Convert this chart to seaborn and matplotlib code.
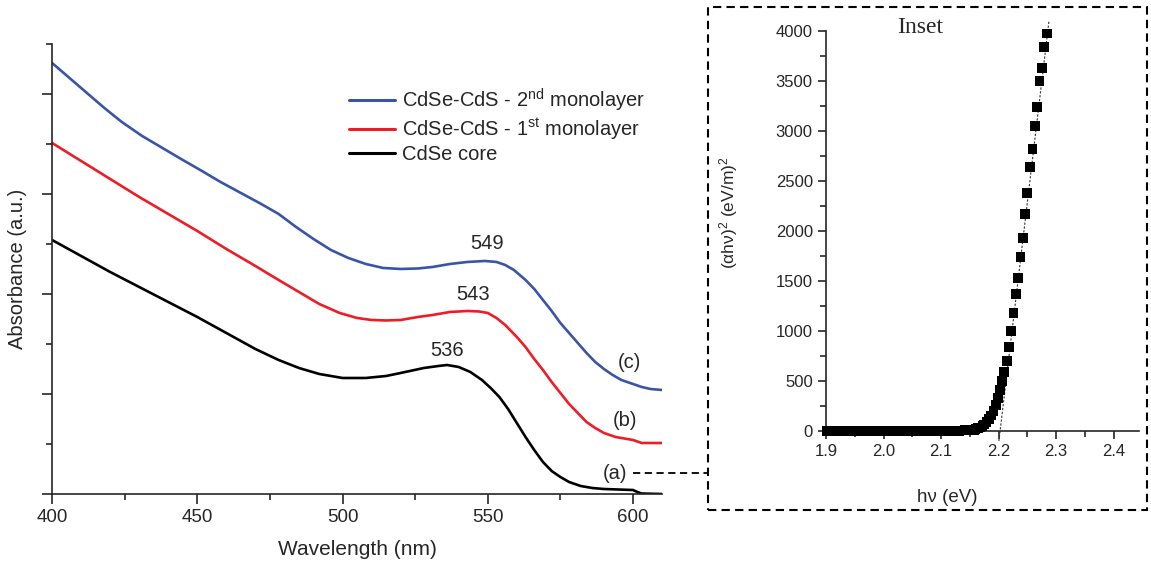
import pandas as pd
import matplotlib.pyplot as plt
import matplotlib.patches as mpatches
import matplotlib.lines as mlines
from matplotlib.ticker import MultipleLocator
import seaborn as sns

# --- Absorption spectra ---
wl_core = [400, 410, 420, 430, 440, 450, 460, 470, 478, 485, 492, 500, 508, 515, 520, 528, 533, 536,
           540, 544, 548, 551, 554, 557, 560, 563, 566, 569, 572, 575, 578, 582, 586, 590, 595, 600,
           601.5, 603, 610]
abs_core = [2.54, 2.38, 2.22, 2.07, 1.92, 1.77, 1.61, 1.45, 1.34, 1.26, 1.20, 1.16, 1.16, 1.18, 1.21,
            1.26, 1.28, 1.29, 1.27, 1.22, 1.14, 1.06, 0.97, 0.85, 0.71, 0.57, 0.44, 0.32, 0.23, 0.17,
            0.12, 0.08, 0.06, 0.05, 0.045, 0.04, 0.02, 0.005, 0.0]

wl_1st = [400, 410, 420, 430, 440, 450, 460, 470, 478, 485, 492, 499, 505, 510, 515, 520, 526, 531,
          537, 543, 547, 550, 553, 556, 560, 563, 566, 569, 572, 575, 578, 581, 584, 587, 590, 594,
          598, 600, 603, 610]
abs_1st = [3.51, 3.33, 3.15, 2.97, 2.80, 2.63, 2.45, 2.28, 2.14, 2.02, 1.90, 1.81, 1.76, 1.74, 1.735,
           1.74, 1.77, 1.79, 1.82, 1.83, 1.825, 1.81, 1.76, 1.69, 1.57, 1.47, 1.35, 1.24, 1.12, 1.01,
           0.90, 0.81, 0.72, 0.66, 0.61, 0.57, 0.55, 0.54, 0.51, 0.51]

wl_2nd = [400, 406, 412, 418, 424, 431, 438, 445, 451, 458, 465, 472, 478, 484, 490, 496, 502, 508,
          514, 520, 526, 531, 537, 543, 549, 553, 556, 559, 563, 566, 569, 572, 575, 578, 581, 584,
          587, 590, 593, 596, 600, 603, 606, 610]
abs_2nd = [4.31, 4.16, 4.01, 3.86, 3.72, 3.58, 3.46, 3.34, 3.24, 3.12, 3.01, 2.90, 2.80, 2.67, 2.55,
           2.44, 2.36, 2.30, 2.26, 2.25, 2.255, 2.27, 2.30, 2.32, 2.33, 2.32, 2.29, 2.24, 2.14, 2.05,
           1.94, 1.83, 1.71, 1.61, 1.51, 1.41, 1.32, 1.25, 1.19, 1.14, 1.10, 1.07, 1.05, 1.04]

labels = ["CdSe-CdS - 2$^{\\mathrm{nd}}$ monolayer",
          "CdSe-CdS - 1$^{\\mathrm{st}}$ monolayer",
          "CdSe core"]
colors = ["#3a55a5", "#ee1c25", "#000000"]

peak_text = ["549", "543", "536"]
peak_pos = [(549.6, 2.50), (544.8, 1.99), (535.9, 1.43)]
tag_text = ["(c)", "(b)", "(a)"]
tag_pos = [(598.8, 1.31), (597.1, 0.73), (593.7, 0.21)]

# --- Tauc plot (inset) ---
hv = [2.284, 2.279, 2.275, 2.271, 2.267, 2.263, 2.259, 2.255, 2.250, 2.246, 2.242, 2.238, 2.234,
      2.230, 2.226, 2.222, 2.218, 2.214, 2.210, 2.206, 2.203, 2.199, 2.195, 2.191, 2.187, 2.183,
      2.179, 2.175, 2.172, 2.168, 2.164, 2.160, 2.157, 2.153, 2.149, 2.145, 2.142, 2.138, 2.134,
      2.131, 2.127, 2.123, 2.120, 2.116, 2.112, 2.109, 2.105, 2.102, 2.098, 2.095, 2.091, 2.088,
      2.084, 2.081, 2.077, 2.074, 2.070, 2.067, 2.063, 2.060, 2.056, 2.053, 2.050, 2.046, 2.043,
      2.040, 2.036, 2.033, 2.030, 2.026, 2.023, 2.020, 2.016, 2.013, 2.010, 2.007, 2.003, 2.000,
      1.997, 1.994, 1.990, 1.987, 1.984, 1.981, 1.978, 1.975, 1.971, 1.968, 1.965, 1.962, 1.959,
      1.956, 1.953, 1.950, 1.947, 1.944, 1.941, 1.938, 1.935, 1.932, 1.929, 1.926, 1.923, 1.920,
      1.917, 1.914, 1.911, 1.908, 1.905, 1.902]
ahv2 = [3977, 3843, 3633, 3500, 3243, 3053, 2817, 2643, 2377, 2170, 1927, 1743, 1533, 1367, 1177,
        1003, 843, 697, 593, 500, 410, 327, 260, 200, 155, 118, 88, 65, 48, 35, 26, 19, 14, 11, 9,
        7, 6, 5, 5, 4, 4, 4, 3, 3, 3, 3, 2, 2, 2, 2, 2, 2, 2, 2, 2, 2, 2, 1, 1, 1, 1, 1, 1, 1, 1,
        1, 1, 1, 1, 1, 1, 1, 1, 1, 1, 1, 1, 1, 1, 1, 0, 0, 0, 0, 0, 0, 0, 0, 0, 0, 0, 0, 0, 0, 0,
        0, 0, 0, 0, 0, 0, 0, 0, 0, 0, 0, 0, 0, 0, 0]
fit_hv = [2.2005, 2.2875]
fit_val = [-100, 4100]

sns.set_style("ticks")
plt.rcParams['font.family'] = ['Liberation Sans', 'DejaVu Sans']
plt.rcParams['mathtext.fontset'] = 'custom'
plt.rcParams['mathtext.rm'] = 'Liberation Sans'
plt.rcParams['mathtext.it'] = 'Liberation Sans:italic'
plt.rcParams['xtick.direction'] = 'out'
plt.rcParams['ytick.direction'] = 'out'

spectra = pd.concat([
    pd.DataFrame({'wl': wl_2nd, 'abs': abs_2nd, 'sample': labels[0]}),
    pd.DataFrame({'wl': wl_1st, 'abs': abs_1st, 'sample': labels[1]}),
    pd.DataFrame({'wl': wl_core, 'abs': abs_core, 'sample': labels[2]}),
])
tauc = pd.DataFrame({'hv': hv, 'val': ahv2})

fig = plt.figure(figsize=(11.51, 5.64), dpi=100)

# --- main absorbance panel ---
ax = fig.add_axes([0.0452, 0.1241, 0.530, 0.798])
sns.lineplot(data=spectra, x='wl', y='abs', hue='sample', palette=dict(zip(labels, colors)),
             linewidth=1.9, ax=ax, legend=False, sort=False)
ax.set_xlim(400, 610)
ax.set_ylim(0, 4.5)
ax.xaxis.set_major_locator(MultipleLocator(50))
ax.xaxis.set_minor_locator(MultipleLocator(25))
ax.yaxis.set_major_locator(MultipleLocator(1))
ax.yaxis.set_minor_locator(MultipleLocator(0.5))
ax.set_yticklabels([])
ax.tick_params(axis='both', which='major', length=7, width=1.2, labelsize=13.5)
ax.tick_params(axis='both', which='minor', length=4, width=1.2)
sns.despine(ax=ax)
for s in ['left', 'bottom']:
    ax.spines[s].set_linewidth(1.2)
ax.set_xlabel("Wavelength (nm)", fontsize=15)
ax.set_ylabel("Absorbance (a.u.)", fontsize=14.5)
ax.xaxis.set_label_coords(0.5, -0.102)
ax.yaxis.set_label_coords(-0.041, 0.5)

handles = [mlines.Line2D([], [], color=c, lw=2.2) for c in colors]
ax.legend(handles, labels, loc='upper left', bbox_to_anchor=(0.487, 0.905), frameon=False,
          fontsize=14.5, handlelength=2.3, handletextpad=0.35, labelspacing=0.15, borderpad=0,
          borderaxespad=0)

for t, (x, y) in zip(peak_text, peak_pos):
    ax.text(x, y, t, fontsize=14.5, ha='center', va='center')
for t, (x, y) in zip(tag_text, tag_pos):
    ax.text(x, y, t, fontsize=14.5, ha='center', va='center')

# --- inset Tauc panel ---
ins = fig.add_axes([0.7176, 0.2358, 0.272, 0.709])
ins.plot(fit_hv, fit_val, linestyle=(0, (2, 1.5)), color='#333333', lw=0.8, clip_on=False)
sns.scatterplot(data=tauc, x='hv', y='val', marker='s', s=50, color='black', edgecolor='none',
                ax=ins, clip_on=False, zorder=3)
ins.set_xlim(1.9, 2.444)
ins.set_ylim(0, 4000)
ins.xaxis.set_major_locator(MultipleLocator(0.1))
ins.xaxis.set_minor_locator(MultipleLocator(0.05))
ins.yaxis.set_major_locator(MultipleLocator(500))
ins.yaxis.set_minor_locator(MultipleLocator(250))
ins.tick_params(axis='both', which='major', length=6, width=1.2, labelsize=12)
ins.tick_params(axis='both', which='minor', length=4, width=1.2)
sns.despine(ax=ins)
for s in ['left', 'bottom']:
    ins.spines[s].set_linewidth(1.2)
ins.set_xlabel("h\u03bd (eV)", fontsize=13.5)
ins.set_ylabel("(\u03b1h\u03bd)$^{2}$ (eV/m)$^{2}$", fontsize=12.5)
ins.xaxis.set_label_coords(0.387, -0.145)
ins.yaxis.set_label_coords(-0.275, 0.545)
ins.text(0.30, 1.01, "Inset", transform=ins.transAxes, ha='center', va='center',
         fontsize=17, family='Liberation Serif')

# dashed frame around inset and connector to curve (a)
fig.add_artist(mpatches.Rectangle((0.6151, 0.0957), 0.3814, 0.8919, transform=fig.transFigure,
                                  fill=False, ec='black', lw=1.5, ls=(0, (4, 2.5))))
fig.add_artist(mlines.Line2D([0.5500, 0.6151], [0.1613, 0.1613], transform=fig.transFigure,
                             color='black', lw=1.3, ls=(0, (4, 2.5))))

fig.savefig("out.png", dpi=100)
